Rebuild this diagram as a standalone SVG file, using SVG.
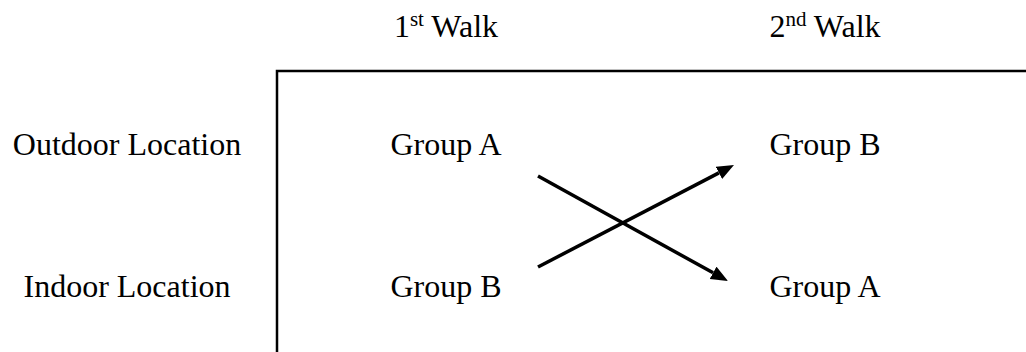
<svg xmlns="http://www.w3.org/2000/svg" width="1026" height="352" viewBox="0 0 1026 352">
<style>
text{font-family:"Liberation Serif","Times New Roman",serif;font-size:32px;fill:#000}
.c{text-anchor:middle}
.ln{stroke:#000;fill:none}
</style>
<defs>
<marker id="ah" markerUnits="userSpaceOnUse" markerWidth="20" markerHeight="16" refX="0" refY="7" orient="auto">
<path d="M0,0 L17,7 L0,14 z" fill="#000"/>
</marker>
</defs>
<rect width="1026" height="352" fill="#fff"/>
<g id="frame">
<path class="ln" stroke-width="2.5" d="M277,353 V71 H1026"/>
</g>
<g id="col1"><text class="c" x="446" y="37">1<tspan font-size="21" dy="-11">st</tspan><tspan dy="11"> Walk</tspan></text></g>
<g id="col2"><text class="c" x="825" y="37">2<tspan font-size="21" dy="-11">nd</tspan><tspan dy="11"> Walk</tspan></text></g>
<g id="row1"><text class="c" x="127" y="155">Outdoor Location</text></g>
<g id="row2"><text class="c" x="127" y="297">Indoor Location</text></g>
<g id="a1"><text class="c" x="446" y="155">Group A</text></g>
<g id="b1"><text class="c" x="446" y="297">Group B</text></g>
<g id="b2"><text class="c" x="825" y="155">Group B</text></g>
<g id="a2"><text class="c" x="825" y="297">Group A</text></g>
<g id="connectors">
<line class="ln" stroke-width="3.5" x1="538" y1="176" x2="713.1" y2="272.8" marker-end="url(#ah)"/>
<line class="ln" stroke-width="3.5" x1="538" y1="267" x2="718.9" y2="172.9" marker-end="url(#ah)"/>
</g>
</svg>
